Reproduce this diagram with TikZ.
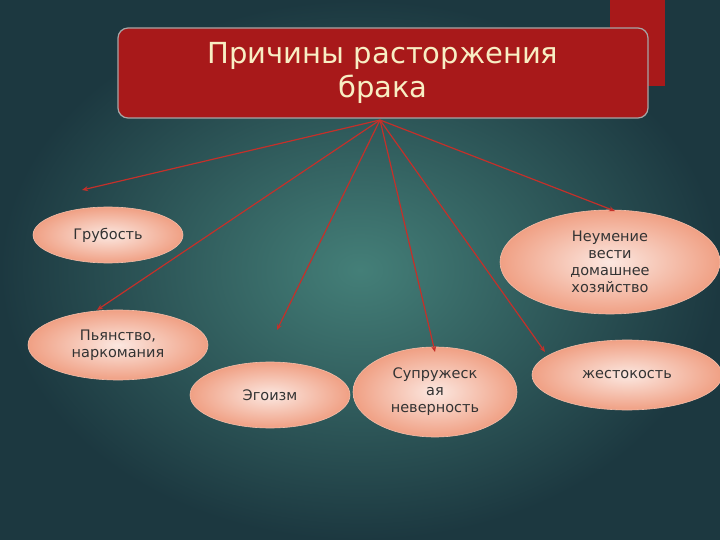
\documentclass[tikz,border=0pt]{standalone}
\usepackage{fontspec}
\setmainfont{DejaVu Sans}
\usetikzlibrary{shapes.geometric,arrows.meta}
\definecolor{bgin}{HTML}{447F78}
\definecolor{bgout}{HTML}{1C3840}
\definecolor{titlered}{HTML}{A8191A}
\definecolor{linered}{HTML}{C4302A}
\definecolor{peach}{HTML}{F0A084}
\definecolor{cream}{HTML}{F8EEC4}
\tikzset{
  cause/.style={ellipse, draw=peach!70!white, line width=0.6pt, inner color=peach!25!white, outer color=peach, text=black!80, font=\fontsize{14.5}{17}\selectfont, align=center, inner sep=0pt},
  link/.style={draw=linered, line width=1.2pt, -{Stealth[length=6pt,width=5pt]}}
}
\begin{document}
\begin{tikzpicture}[x=1pt,y=-1pt]
\useasboundingbox (0,0) rectangle (720,540);
\shade[inner color=bgin, outer color=bgout] (0,0) rectangle (720,540);
\fill[titlered] (610,0) rectangle (665,86);
\node[draw=gray!70, line width=1.2pt, fill=titlered, rounded corners=10pt, minimum width=530pt, minimum height=90pt, text=cream, font=\fontsize{29}{34}\selectfont, align=center] (title) at (383,73) {Причины расторжения\\брака};
\coordinate (hub) at (380,120);
\node[cause, minimum width=150pt, minimum height=56pt] (a) at (108,235) {Грубость};
\node[cause, minimum width=220pt, minimum height=104pt] (b) at (610,262) {Неумение\\вести\\домашнее\\хозяйство};
\node[cause, minimum width=180pt, minimum height=70pt] (c) at (118,345) {Пьянство,\\наркомания};
\node[cause, minimum width=160pt, minimum height=66pt] (d) at (270,395) {Эгоизм};
\node[cause, minimum width=164pt, minimum height=90pt] (e) at (435,392) {Супружеск\\ая\\неверность};
\node[cause, minimum width=190pt, minimum height=70pt] (f) at (627,375) {жестокость};
\coordinate (ta) at (82,190);
\coordinate (tb) at (615,211);
\coordinate (tc) at (97,310);
\coordinate (td) at (277,330);
\coordinate (te) at (435,352);
\coordinate (tf) at (545,352);
\draw[link] (hub) -- (ta);
\draw[link] (hub) -- (tb);
\draw[link] (hub) -- (tc);
\draw[link] (hub) -- (td);
\draw[link] (hub) -- (te);
\draw[link] (hub) -- (tf);
\end{tikzpicture}
\end{document}
